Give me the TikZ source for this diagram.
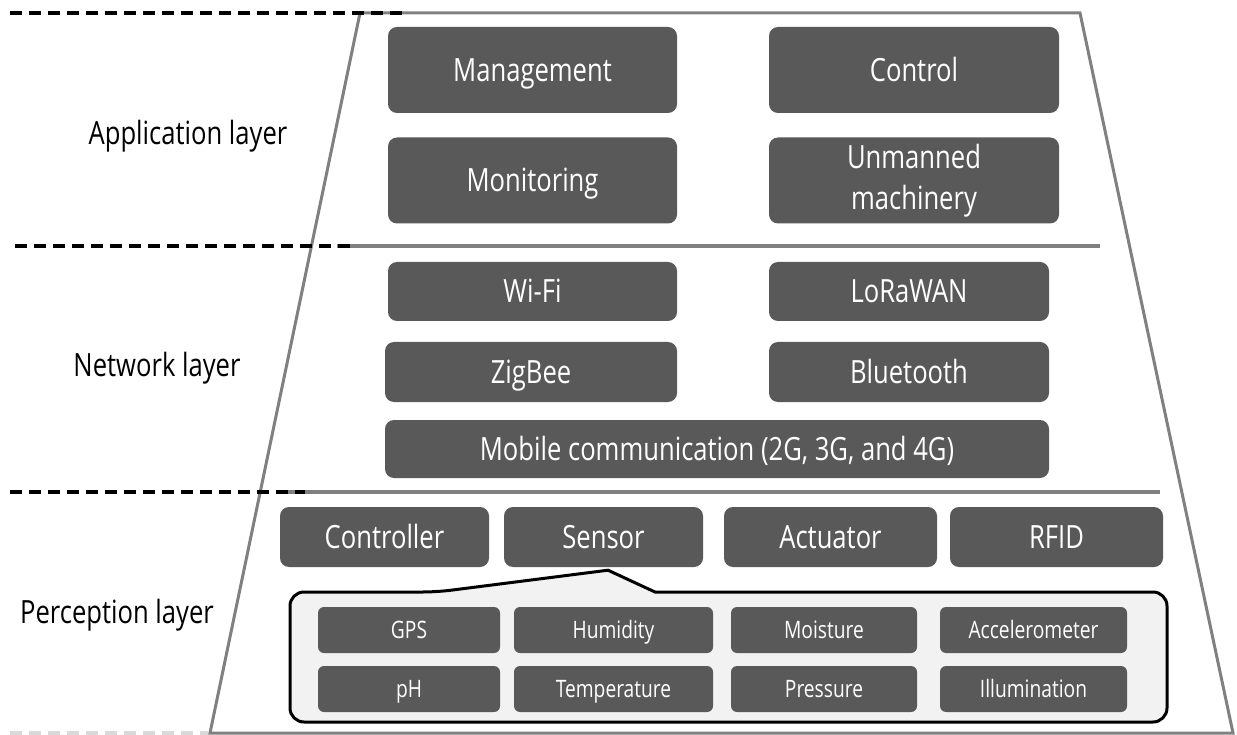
\documentclass[tikz,border=0pt]{standalone}
\usepackage{fontspec}
\setmainfont{Open Sans}[FakeStretch=0.80]
\definecolor{boxgray}{HTML}{595959}
\definecolor{framegray}{HTML}{808080}
\definecolor{calloutfill}{HTML}{F2F2F2}
\newcommand\bigtxt{\fontsize{32}{41}\selectfont}
\newcommand\smalltxt{\fontsize{24}{28}\selectfont}
\begin{document}
\begin{tikzpicture}[x=1pt,y=-1pt,
  box/.style={fill=boxgray, rounded corners=9pt, text=white, inner sep=0pt, font=\bigtxt, text height=22.5pt, text depth=0pt},
  mbox/.style={fill=boxgray, rounded corners=9pt, text=white, inner sep=0pt, font=\bigtxt, align=center},
  sbox/.style={fill=boxgray, rounded corners=6pt, text=white, inner sep=0pt, font=\smalltxt, text height=17pt, text depth=0pt},
  layer/.style={text=black, font=\bigtxt, text height=22.5pt, text depth=0pt, inner sep=0pt},
  frame/.style={draw=framegray, line width=3pt, line join=miter},
  sepline/.style={draw=framegray, line width=3.2pt},
  dashline/.style={draw=black, line width=3.4pt, dash pattern=on 12pt off 7pt},
  callout/.style={draw=black, line width=3pt, fill=calloutfill}]

\useasboundingbox[fill=white] (0,0) rectangle (1237,735);

% trapezoid frame and separators
\draw[frame] (360,13) -- (1080,13) -- (1233,733) -- (210,733) -- cycle;
\draw[sepline] (337,246) -- (1100,246);
\draw[sepline] (283,492) -- (1160,492);

% dashed layer boundaries
\draw[dashline] (10,13) -- (405,13);
\draw[dashline] (15,246) -- (352,246);
\draw[dashline] (10,492) -- (305,492);
\draw[dashline, draw=black!15] (10,733) -- (208,733);

% layer labels
\node[layer] (lapp) at (188,133) {Application layer};
\node[layer] (lnet) at (157,365) {Network layer};
\node[layer] (lper) at (117,612) {Perception layer};

% application layer
\node[box, minimum width=289pt, minimum height=86pt] (mgmt) at (532.5,70) {Management};
\node[box, minimum width=290pt, minimum height=86pt] (ctrl) at (914,70) {Control};
\node[box, minimum width=289pt, minimum height=86pt] (mon) at (532.5,180.5) {Monitoring};
\node[mbox, minimum width=290pt, minimum height=86pt] (unm) at (914,180.5) {Unmanned\\machinery};

% network layer
\node[box, minimum width=289pt, minimum height=59pt] (wifi) at (532.5,291.5) {Wi-Fi};
\node[box, minimum width=280pt, minimum height=59pt] (lora) at (909,291.5) {LoRaWAN};
\node[box, minimum width=292pt, minimum height=60pt] (zig) at (531,372) {ZigBee};
\node[box, minimum width=280pt, minimum height=60pt] (blue) at (909,372) {Bluetooth};
\node[box, minimum width=664pt, minimum height=58pt] (mob) at (717,449) {Mobile communication (2G, 3G, and 4G)};

% perception layer
\node[box, minimum width=209pt, minimum height=60pt] (contr) at (384.5,537) {Controller};
\node[box, minimum width=199pt, minimum height=60pt] (sensor) at (603.5,537) {Sensor};
\node[box, minimum width=213pt, minimum height=60pt] (act) at (830.5,537) {Actuator};
\node[box, minimum width=213pt, minimum height=60pt] (rfid) at (1056.5,537) {RFID};

% sensor callout
\coordinate (tip) at ([shift={(4.5,3)}]sensor.south);
\draw[callout, rounded corners=14pt] (290,660) -- (290,592) -- (437,592) [sharp corners] -- (tip) -- (655,592) [rounded corners=14pt] -- (1167,592) -- (1167,722) -- (290,722) -- cycle;

\node[sbox, minimum width=182pt, minimum height=46pt] (gps) at (409,630) {GPS};
\node[sbox, minimum width=199pt, minimum height=46pt] (hum) at (613.5,630) {Humidity};
\node[sbox, minimum width=186pt, minimum height=46pt] (moist) at (824,630) {Moisture};
\node[sbox, minimum width=187pt, minimum height=46pt] (acc) at (1033.5,630) {Accelerometer};
\node[sbox, minimum width=182pt, minimum height=46pt] (ph) at (409,689) {pH};
\node[sbox, minimum width=199pt, minimum height=46pt] (temp) at (613.5,689) {Temperature};
\node[sbox, minimum width=186pt, minimum height=46pt] (press) at (824,689) {Pressure};
\node[sbox, minimum width=187pt, minimum height=46pt] (illum) at (1033.5,689) {Illumination};
\end{tikzpicture}
\end{document}
